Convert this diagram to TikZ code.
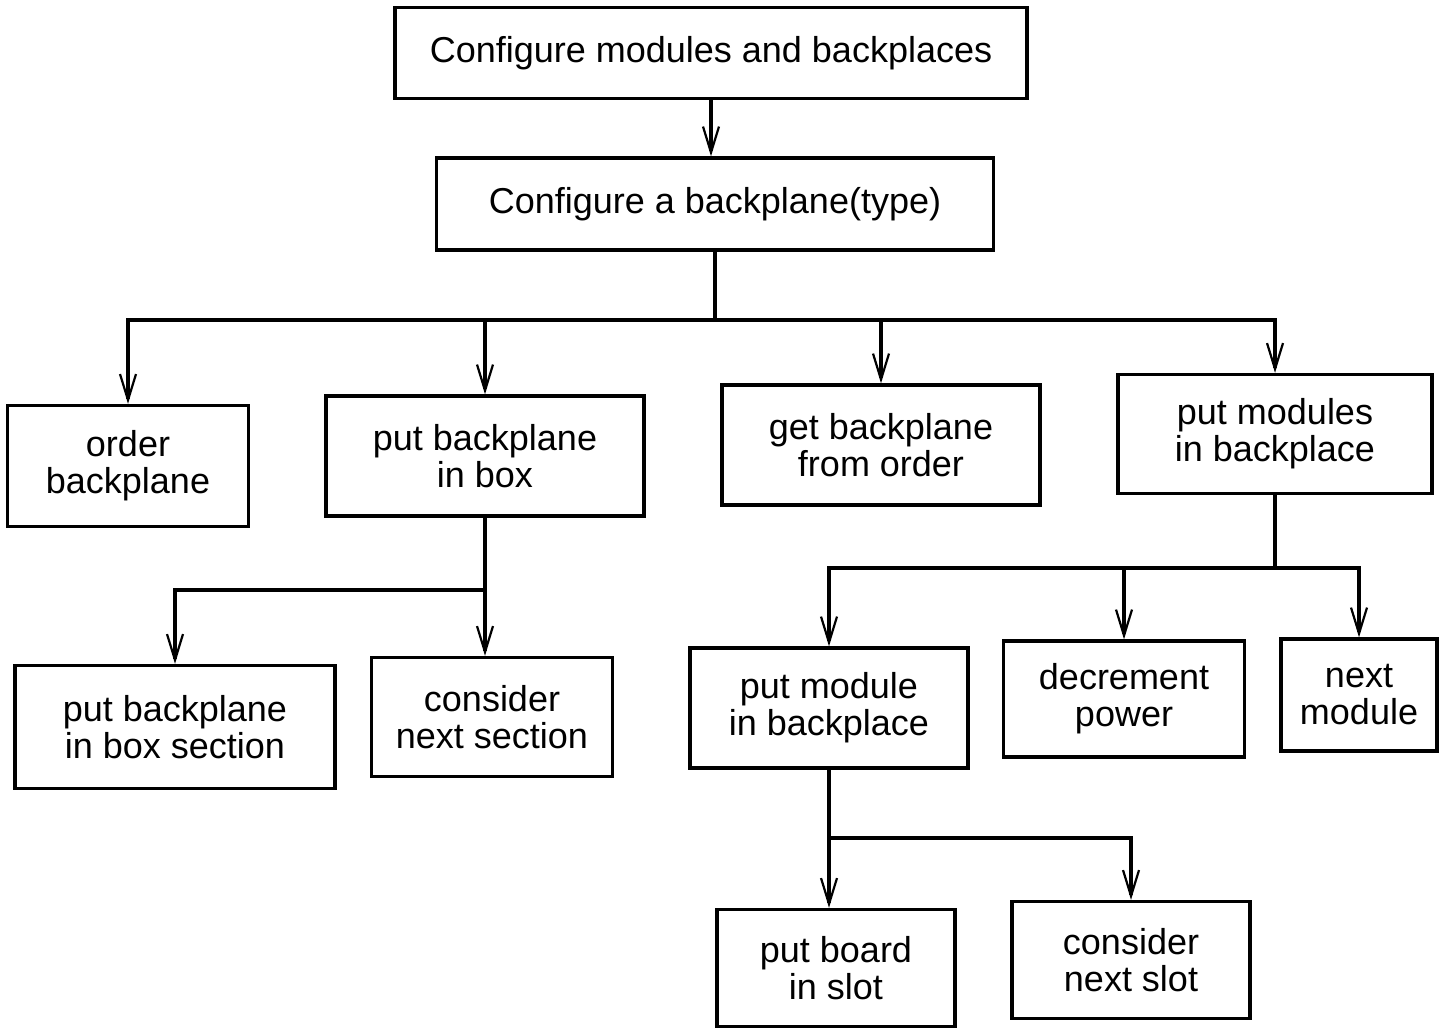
\documentclass[tikz,border=0pt]{standalone}
\usepackage{fontspec}
\setmainfont{Liberation Sans}
\usetikzlibrary{arrows.meta}
\begin{document}
\begin{tikzpicture}[x=0.5pt,y=-0.5pt,
  blk/.style={draw=black,line width=1.7pt,fill=white,align=center,inner sep=0pt,
    font=\fontsize{18}{18.5}\selectfont},
  link/.style={line width=1.6pt,line join=miter},
  arr/.style={link,-{Straight Barb[length=13pt,width=8pt,line width=1.1pt]}}]
\useasboundingbox (0,0) rectangle (1439,1030);
\fill[white] (0,0) rectangle (1439,1030);

% boxes
\node[blk,minimum width=316pt,minimum height=45.5pt] (top) at (711,53) {Configure modules and backplaces};
\node[blk,minimum width=278.5pt,minimum height=46pt] (cfg) at (715,204) {Configure a backplane(type)};
\node[blk,minimum width=120.5pt,minimum height=60.5pt] (order) at (128,466) {order\\backplane};
\node[blk,minimum width=159pt,minimum height=60pt] (putbox) at (485,456) {put backplane\\in box};
\node[blk,minimum width=159pt,minimum height=60pt] (getbp) at (881,445) {get backplane\\from order};
\node[blk,minimum width=157pt,minimum height=59.5pt] (putmods) at (1275,434) {put modules\\in backplace};
\node[blk,minimum width=160pt,minimum height=61.5pt] (section) at (175,727) {put backplane\\in box section};
\node[blk,minimum width=120.5pt,minimum height=59.5pt] (nextsec) at (492,717) {consider\\next section};
\node[blk,minimum width=139pt,minimum height=60pt] (putmod) at (829,708) {put module\\in backplace};
\node[blk,minimum width=120.5pt,minimum height=58pt] (power) at (1124,699) {decrement\\power};
\node[blk,minimum width=78pt,minimum height=56pt] (nextmod) at (1359,695) {next\\module};
\node[blk,minimum width=119pt,minimum height=58.5pt] (board) at (836,968) {put board\\in slot};
\node[blk,minimum width=119pt,minimum height=58.5pt] (nextslot) at (1131,960) {consider\\next slot};

% top level
\draw[arr] (top.south) -- (top.south |- cfg.north);

% first branching
\coordinate (j1) at (cfg.south |- 0,320);
\draw[link] (cfg.south) -- (j1);
\draw[arr] (j1) -| (order.north);
\draw[arr] (j1) -| (putmods.north);
\draw[arr] (putbox.north |- j1) -- (putbox.north);
\draw[arr] (getbp.north |- j1) -- (getbp.north);

% under "put backplane in box"
\coordinate (j2) at (putbox.south |- 0,590);
\draw[link] (putbox.south) -- (j2);
\draw[arr] (j2) -| (section.north);
\draw[arr] (j2) -- (j2 |- nextsec.north);

% under "put modules in backplace"
\coordinate (j3) at (putmods.south |- 0,568);
\draw[link] (putmods.south) -- (j3);
\draw[arr] (j3) -| (putmod.north);
\draw[arr] (j3) -| (nextmod.north);
\draw[arr] (power.north |- j3) -- (power.north);

% under "put module in backplace"
\coordinate (j4) at (putmod.south |- 0,838);
\draw[link] (putmod.south) -- (j4);
\draw[arr] (j4) -- (j4 |- board.north);
\draw[arr] (j4) -| (nextslot.north);
\end{tikzpicture}
\end{document}
